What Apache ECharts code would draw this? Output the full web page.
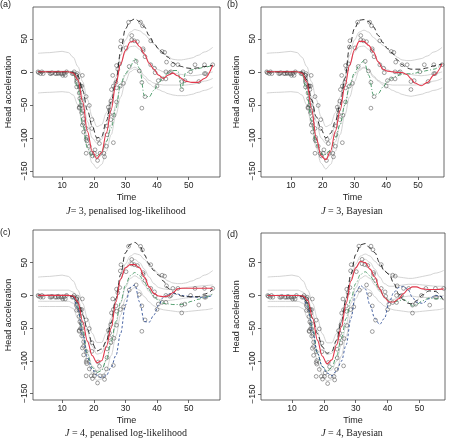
<!DOCTYPE html>
<html><head><meta charset="utf-8">
<script src="https://cdn.jsdelivr.net/npm/echarts@6/dist/echarts.min.js"></script>
<style>html,body{margin:0;padding:0;background:#fff}#c{width:450px;height:440px}</style>
</head><body><div id="c"></div><script>
// observed data (time, head acceleration)
const times = [2.4,2.6,3.2,3.6,4.0,6.2,6.6,6.8,7.8,8.2,8.8,8.8,9.6,10.0,10.2,10.6,11.0,11.4,13.2,13.6,13.8,14.6,14.6,14.6,14.6,14.6,14.6,14.8,15.4,15.4,15.4,15.4,15.6,15.6,15.8,15.8,16.0,16.0,16.2,16.2,16.2,16.4,16.4,16.6,16.8,16.8,16.8,17.6,17.6,17.6,17.6,17.8,17.8,18.6,18.6,19.2,19.4,19.4,19.6,20.2,20.4,21.2,21.4,21.8,22.0,23.2,23.4,24.0,24.2,24.2,24.6,25.0,25.0,25.4,25.4,25.6,26.0,26.2,26.2,26.4,27.0,27.2,27.2,27.2,27.6,28.2,28.4,28.4,28.6,29.4,30.2,31.0,31.2,32.0,32.0,32.8,33.4,33.8,34.4,34.8,35.2,35.2,35.4,35.6,35.6,36.2,36.2,38.0,38.0,39.2,39.4,40.0,40.4,41.6,41.6,42.4,42.8,42.8,43.0,44.0,44.4,45.0,46.6,47.8,47.8,48.8,50.6,52.0,53.2,55.0,55.0,55.4,57.6];
const accel = [0.0,-1.3,-2.7,0.0,-2.7,-2.7,-2.7,-1.3,-2.7,-2.7,-1.3,-2.7,-2.7,-2.7,-5.4,-2.7,-5.4,0.0,-2.7,-2.7,0.0,-13.3,-5.4,-5.4,-9.3,-16.0,-22.8,-2.7,-22.8,-32.1,-53.5,-54.9,-40.2,-21.5,-21.5,-50.8,-42.9,-26.8,-21.5,-50.8,-61.7,-5.4,-80.4,-59.0,-71.0,-91.1,-77.7,-37.5,-85.6,-123.1,-101.9,-99.1,-104.4,-112.5,-50.8,-123.1,-85.6,-72.3,-127.2,-123.1,-117.9,-134.0,-101.9,-108.4,-123.1,-123.1,-128.5,-112.5,-95.1,-81.8,-53.5,-64.4,-57.6,-72.3,-44.3,-26.8,-5.4,-107.1,-21.5,-65.6,-16.0,-45.6,-24.2,9.5,4.0,12.0,-21.5,37.5,46.9,-17.4,36.2,75.0,8.1,54.9,48.2,46.9,16.0,45.6,1.3,75.0,-16.0,-54.9,69.6,34.8,32.1,-37.5,22.8,46.9,10.7,5.4,-1.3,-21.5,-13.3,30.8,-10.7,29.4,0.0,-10.7,14.7,-1.3,0.0,10.7,10.7,-26.8,-14.7,-13.3,0.0,10.7,-14.7,-2.7,10.7,-2.7,10.7];

// time grid for fitted curves
const T = [2.4,6,10,12,13.5,15,16.5,18,19.5,21,22.5,24,25.5,27,28.5,30,31.5,33,34.5,36,37.5,39,40.5,42,43.5,45,46.5,47.8,49,51,53,55,57.6];

// (a) J=3 penalised
const redA   = [0,0,0,0,-2,-12,-45,-90,-120,-131,-122,-92,-57,-18,12,32,45,47,38,27,13,4,-5,-10,-5,-2,-6,-10,-14,-16,-16,-10,10];
const blackA = [0,0,0,0,-1,-6,-28,-58,-82,-100,-98,-74,-45,-15,30,65,77,80,76,68,55,43,35,28,22,14,10,8,6,5,6,8,10];
const greenA = [0,0,0,0,-2,-25,-80,-115,-128,-127,-120,-105,-85,-55,-18,-3,8,20,5,-36,-38,-28,-17,-8,-2,2,2,-26,-2,3,5,7,10];
const g1A = [28,29,31,29,22,8,-15,-42,-68,-83,-80,-62,-38,-8,25,48,60,64,62,57,50,42,34,28,23,19,18,18,19,21,25,30,37];
const g2A = [1,1,1,1,0,-10,-38,-75,-100,-108,-102,-80,-50,-15,12,30,38,39,34,25,15,8,3,0,-1,-2,-3,-4,-5,-6,-5,-3,0];
const g3A = [-1,-1,-1,-1,-4,-22,-62,-102,-125,-132,-126,-106,-80,-50,-22,-5,4,7,3,-6,-13,-17,-19,-20,-20,-20,-20,-20,-20,-19,-17,-14,-10];
const g4A = [-32,-31,-30,-31,-35,-50,-80,-115,-138,-146,-140,-120,-95,-65,-38,-15,0,4,0,-10,-18,-23,-27,-30,-33,-35,-36,-36,-36,-34,-31,-28,-23];

// (b) J=3 Bayesian
const redB   = [0,0,0,0,-2,-15,-55,-100,-127,-133,-120,-90,-58,-22,10,33,46,46,40,30,15,4,1,0,-1,-1,-4,-10,-17,-21,-16,-5,12];
const blackB = [0,0,0,0,-1,-12,-42,-68,-87,-100,-93,-75,-50,-10,38,65,78,79,76,68,55,44,35,28,18,11,6,4,4,4,6,9,12];
const greenB = [0,0,0,0,-3,-30,-75,-110,-124,-125,-118,-100,-80,-50,-20,-2,10,17,-5,-35,-33,-23,-14,-9,-6,-4,-3,-3,-2,0,2,4,12];
const g1B = [28,29,31,29,22,8,-15,-42,-68,-83,-80,-62,-38,-8,25,48,60,63,60,52,46,40,34,28,22,18,17,17,18,20,24,30,37];
const g2B = [1,1,1,1,0,-10,-38,-75,-100,-108,-102,-80,-50,-15,12,30,38,39,34,25,15,8,3,0,-1,-2,-3,-4,-5,-6,-5,-3,0];
const g3B = [-1,-1,-1,-1,-4,-22,-62,-102,-125,-132,-126,-106,-80,-50,-22,-5,4,7,3,-6,-13,-17,-19,-20,-20,-20,-20,-20,-20,-19,-17,-14,-10];
const g4B = [-32,-31,-30,-31,-35,-50,-80,-115,-138,-147,-140,-120,-95,-65,-38,-15,2,6,2,-8,-14,-20,-24,-28,-31,-34,-36,-37,-36,-34,-31,-28,-24];

// (c) J=4 penalised
const redC   = [0,0,0,0,-1,-10,-40,-70,-92,-103,-100,-78,-50,-10,25,42,47,47,42,28,13,3,-1,-2,-1,4,10,11,11,11,11,11,11];
const blackC = [0,0,0,0,-2,-12,-30,-52,-73,-85,-82,-70,-42,-5,32,65,78,81,76,62,48,38,31,22,11,5,1,-1,-2,-2,-2,2,9];
const blueC  = [0,0,0,0,-3,-20,-60,-95,-113,-122,-126,-122,-110,-92,-58,-15,12,16,-10,-40,-41,-30,-15,-3,2,3,2,0,-1,-2,-3,-3,0];
const greenC = [0,0,0,0,-2,-18,-55,-90,-110,-118,-115,-98,-70,-40,-10,15,30,35,30,20,8,-2,-8,-12,-13,-14,-14,-14,-12,-9,-6,-3,2];
const g1C = [28,29,31,29,22,8,-12,-35,-58,-72,-72,-58,-35,-5,25,48,60,64,62,55,47,40,33,27,22,19,18,18,19,22,26,31,38];
const g2C = [8,8,8,8,5,-5,-28,-55,-78,-90,-88,-70,-40,-5,25,42,52,55,50,40,28,18,12,10,9,9,10,11,12,13,14,15,16];
const g3C = [-9,-9,-9,-9,-12,-25,-55,-88,-108,-115,-113,-100,-75,-45,-12,12,26,30,26,16,6,-2,-6,-8,-8,-7,-6,-5,-4,-3,-2,-1,2];
const g4C = [-17,-17,-17,-17,-20,-35,-68,-100,-120,-130,-128,-115,-92,-62,-30,-5,8,12,8,-2,-10,-16,-20,-22,-23,-24,-25,-25,-25,-24,-23,-22,-20];

// (d) J=4 Bayesian
const redD   = [0,0,0,0,-1,-8,-35,-68,-92,-104,-98,-75,-48,-12,22,42,52,50,40,28,10,-3,-10,-10,-5,3,10,13,13,10,9,9,10];
const blackD = [0,0,0,0,-2,-12,-35,-58,-78,-88,-85,-68,-40,-5,32,62,77,79,72,65,50,37,32,18,2,-7,-12,-13,-8,1,7,6,-8];
const blueD  = [0,0,0,0,-3,-18,-55,-88,-108,-118,-122,-115,-100,-75,-35,5,15,10,-15,-35,-44,-35,-10,5,12,14,8,-3,-10,-12,-5,0,-3];
const greenD = [0,0,0,0,-2,-15,-50,-88,-108,-115,-110,-92,-65,-35,-5,18,32,36,30,20,8,-2,-8,-10,-8,-6,-10,-16,-14,-8,-4,-5,-5];
const g1D = [28,29,31,29,22,8,-12,-35,-58,-72,-72,-58,-35,-5,25,48,60,63,60,52,45,38,33,30,28,27,26,26,27,29,31,34,38];
const g2D = [8,8,8,8,5,-5,-28,-55,-78,-90,-88,-70,-40,-5,25,42,52,55,50,40,28,18,14,14,15,16,17,17,17,16,15,14,14];
const g3D = [-9,-9,-9,-9,-12,-25,-55,-88,-108,-115,-113,-100,-75,-45,-12,12,26,30,26,16,6,-2,-6,-6,-4,-2,-1,-1,-2,-3,-3,-2,0];
const g4D = [-17,-17,-17,-17,-20,-35,-68,-100,-120,-130,-128,-115,-92,-62,-30,-5,8,12,8,-2,-10,-16,-20,-22,-23,-24,-25,-25,-25,-24,-23,-22,-20];

const xTicks = [10,20,30,40,50];
const yTicks = [-150,-100,-50,0,50];

const panels = [
  {grid:{left:33,top:7,width:187,height:170}, x:[0.8,59.9], y:[-159,98],
   gray:[g1A,g2A,g3A,g4A], green:greenA, blue:null, black:blackA, red:redA,
   tag:'(a)', tx:0, ty:5, cap:'{i|J}= 3, penalised log-likelihood', cx:126, cy:211},
  {grid:{left:261,top:7,width:183,height:170}, x:[0.6,58.2], y:[-159,98],
   gray:[g1B,g2B,g3B,g4B], green:greenB, blue:null, black:blackB, red:redB,
   tag:'(b)', tx:227, ty:5, cap:'{i|J} = 3, Bayesian', cx:352, cy:211},
  {grid:{left:33,top:230,width:187,height:170}, x:[0.8,59.9], y:[-160,100],
   gray:[g1C,g2C,g3C,g4C], green:greenC, blue:blueC, black:blackC, red:redC,
   tag:'(c)', tx:0, ty:233, cap:'{i|J} = 4, penalised log-likelihood', cx:126, cy:433},
  {grid:{left:261,top:233,width:184,height:167}, x:[0.3,58], y:[-159,95],
   gray:[g1D,g2D,g3D,g4D], green:greenD, blue:blueD, black:blackD, red:redD,
   tag:'(d)', tx:227, ty:235, cap:'{i|J} = 4, Bayesian', cx:352, cy:433}
];

const pts = times.map((t,i)=>[t, accel[i]]);
const curve = arr => T.map((t,i)=>[t, arr[i]]);
const txt = '#222';
const sans = 'Liberation Sans, Arial, sans-serif';
const serif = 'Liberation Serif, Times New Roman, serif';

const grids=[], xAxes=[], yAxes=[], series=[], graphics=[];
panels.forEach((p,k)=>{
  grids.push(Object.assign({show:true, borderColor:'#444', borderWidth:0.8, containLabel:false}, p.grid));
  xAxes.push({type:'value', gridIndex:k, min:p.x[0], max:p.x[1],
    name:'Time', nameLocation:'middle', nameGap:16,
    nameTextStyle:{fontFamily:sans, fontSize:9, color:txt},
    axisLine:{show:false, onZero:false}, splitLine:{show:false},
    axisTick:{show:true, length:3, inside:false, customValues:xTicks, lineStyle:{color:'#444', width:0.8}},
    axisLabel:{customValues:xTicks, margin:4, fontFamily:sans, fontSize:8.5, color:txt}});
  yAxes.push({type:'value', gridIndex:k, min:p.y[0], max:p.y[1],
    name:'Head acceleration', nameLocation:'middle', nameGap:20, nameRotate:90,
    nameTextStyle:{fontFamily:sans, fontSize:9, color:txt},
    axisLine:{show:false, onZero:false}, splitLine:{show:false},
    axisTick:{show:true, length:3, inside:false, customValues:yTicks, lineStyle:{color:'#444', width:0.8}},
    axisLabel:{customValues:yTicks, rotate:90, margin:4, fontFamily:sans, fontSize:8.5, color:txt,
      formatter:v=>String(v).replace('-','\u2212')}});
  p.gray.forEach(g=>series.push({type:'line', xAxisIndex:k, yAxisIndex:k, data:curve(g), smooth:0.35, smoothMonotone:'x',
    showSymbol:false, silent:true, lineStyle:{color:'#c8c8c8', width:0.8}, z:1}));
  series.push({type:'scatter', xAxisIndex:k, yAxisIndex:k, data:pts, symbol:'circle', symbolSize:3.8, silent:true,
    itemStyle:{color:'rgba(0,0,0,0)', borderColor:'#3a3a3a', borderWidth:0.6}, z:2});
  series.push({type:'line', xAxisIndex:k, yAxisIndex:k, data:curve(p.green), smooth:0.35, smoothMonotone:'x',
    showSymbol:false, silent:true, lineStyle:{color:'#3f9560', width:0.9, type:[4,2,1,2]}, z:3});
  if (p.blue) series.push({type:'line', xAxisIndex:k, yAxisIndex:k, data:curve(p.blue), smooth:0.35, smoothMonotone:'x',
    showSymbol:false, silent:true, lineStyle:{color:'#34549a', width:0.9, type:[2.5,2]}, z:3});
  series.push({type:'line', xAxisIndex:k, yAxisIndex:k, data:curve(p.black), smooth:0.35, smoothMonotone:'x',
    showSymbol:false, silent:true, lineStyle:{color:'#1a1a1a', width:0.9, type:[5,3]}, z:4});
  series.push({type:'line', xAxisIndex:k, yAxisIndex:k, data:curve(p.red), smooth:0.35, smoothMonotone:'x',
    showSymbol:false, silent:true, lineStyle:{color:'#e2364a', width:1.1}, z:5});
  graphics.push({type:'text', x:p.tx, y:p.ty, style:{text:p.tag, fontFamily:sans, fontSize:9, fill:txt, align:'left', verticalAlign:'middle'}});
  graphics.push({type:'text', x:p.cx, y:p.cy, style:{text:p.cap, fontFamily:serif, fontSize:10, fill:txt, align:'center', verticalAlign:'middle',
    rich:{i:{fontStyle:'italic', fontFamily:serif, fontSize:10, fill:txt}}}});
});

const chart = echarts.init(document.getElementById('c'));
chart.setOption({animation:false, backgroundColor:'#fff', grid:grids, xAxis:xAxes, yAxis:yAxes, series:series, graphic:graphics});
</script></body></html>
